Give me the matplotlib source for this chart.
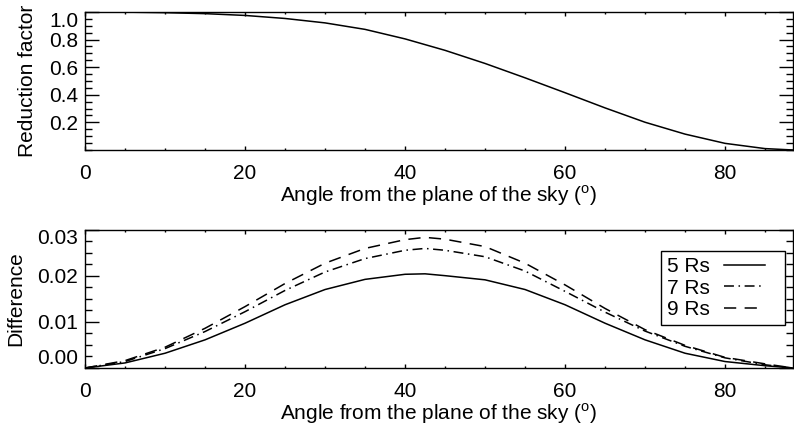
import matplotlib
matplotlib.use("Agg")
import matplotlib.pyplot as plt
from matplotlib.lines import Line2D
from matplotlib.legend_handler import HandlerLine2D
from matplotlib.ticker import MultipleLocator

# reduction factor vs angle (top panel)
angle_top = [0, 5, 10, 15, 20, 25, 30, 35, 40, 45, 50, 55, 60, 65, 70, 75, 80, 85, 88.5]
reduction = [1.000, 0.999, 0.995, 0.988, 0.975, 0.953, 0.921, 0.874, 0.805, 0.722,
             0.627, 0.523, 0.415, 0.305, 0.201, 0.115, 0.048, 0.010, 0.000]

# difference for the three heights (bottom panel)
angle = [0, 5, 10, 15, 20, 25, 30, 35, 40, 42.5, 45, 50, 55, 60, 65, 70, 75, 80, 85, 88.5]
diff_5rs = [0, 0.0011, 0.0032, 0.0061, 0.0097, 0.0137, 0.0170, 0.0192, 0.0203, 0.0204,
            0.0200, 0.0191, 0.0170, 0.0137, 0.0097, 0.0061, 0.0032, 0.0014, 0.0005, 0.0]
diff_7rs = [0, 0.0014, 0.0042, 0.0079, 0.0122, 0.0168, 0.0208, 0.0237, 0.0255, 0.0259,
            0.0255, 0.0241, 0.0210, 0.0166, 0.0121, 0.0080, 0.0047, 0.0022, 0.0007, 0.0]
diff_9rs = [0, 0.0016, 0.0045, 0.0086, 0.0133, 0.0183, 0.0227, 0.0259, 0.0278, 0.0283,
            0.0279, 0.0263, 0.0227, 0.0180, 0.0129, 0.0083, 0.0049, 0.0023, 0.0009, 0.0]
labels = ["5 Rs", "7 Rs", "9 Rs"]

plt.rcParams["font.family"] = ["Liberation Sans", "DejaVu Sans"]
plt.rcParams["font.size"] = 15
plt.rcParams["mathtext.fontset"] = "custom"
plt.rcParams["mathtext.rm"] = "Liberation Sans"
plt.rcParams["axes.linewidth"] = 1.0

xlabel = r"Angle from the plane of the sky ($^{\rm o}$)"

fig = plt.figure(figsize=(7.94, 4.25), dpi=100)
ax1 = fig.add_axes([0.1071, 0.6471, 0.8917, 0.3247])
ax2 = fig.add_axes([0.1071, 0.1341, 0.8917, 0.3259])


def style_axis(ax):
    ax.set_xlim(0, 88.5)
    ax.xaxis.set_major_locator(MultipleLocator(20))
    ax.xaxis.set_minor_locator(MultipleLocator(5))
    ax.tick_params(which="both", direction="in", top=True, right=True, width=1.0, colors="black")
    ax.tick_params(axis="x", which="major", length=3, pad=10)
    ax.tick_params(axis="x", which="minor", length=1.6)
    ax.tick_params(axis="y", which="major", length=10, pad=5)
    ax.tick_params(axis="y", which="minor", length=5)
    ax.set_xlabel(xlabel, labelpad=0.5)


# top panel
ax1.plot(angle_top, reduction, color="black", lw=1.1)
style_axis(ax1)
ax1.set_ylim(0, 1.0)
ax1.set_yticks([0.2, 0.4, 0.6, 0.8, 1.0])
ax1.set_yticklabels(["0.2", "0.4", "0.6", "0.8", "1.0"])
ax1.yaxis.set_minor_locator(MultipleLocator(0.05))
ax1.get_yticklabels()[-1].set_va("top")
ax1.set_ylabel("Reduction factor", labelpad=8.5)

# bottom panel
ax2.plot(angle, diff_5rs, color="black", lw=1.1, label=labels[0])
ax2.plot(angle, diff_7rs, color="black", lw=1.1, linestyle=(0, (6.5, 3, 1, 3)), label=labels[1])
ax2.plot(angle, diff_9rs, color="black", lw=1.1, linestyle=(0, (8, 5.5)), label=labels[2])
style_axis(ax2)
ax2.set_ylim(0, 0.03)
ax2.set_yticks([0.0, 0.01, 0.02, 0.03])
ax2.set_yticklabels(["0.00", "0.01", "0.02", "0.03"])
ax2.yaxis.set_minor_locator(MultipleLocator(0.0025))
ax2.get_yticklabels()[0].set_va("bottom")
ax2.get_yticklabels()[-1].set_va("top")
ax2.set_ylabel("Difference", labelpad=8.5)

# label first, then a short line sample inset in its slot
leg = ax2.legend(loc="upper right", bbox_to_anchor=(0.9887, 0.8448), markerfirst=False,
                 fancybox=False, frameon=True, edgecolor="black", framealpha=1,
                 numpoints=2, handlelength=3.3, handletextpad=0.0, labelspacing=0.12,
                 borderpad=0.3, borderaxespad=0,
                 handler_map={Line2D: HandlerLine2D(marker_pad=0.67)})
leg.get_frame().set_linewidth(1.0)

fig.savefig("out.png", dpi=100)
